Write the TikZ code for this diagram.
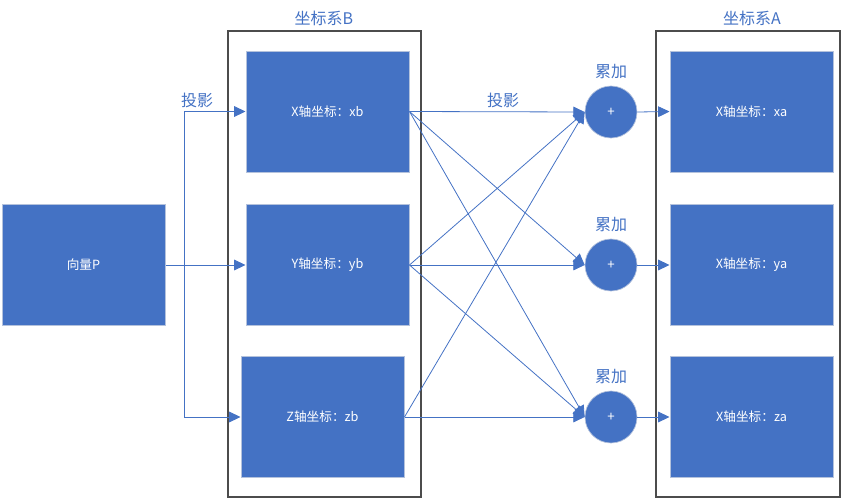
\documentclass[tikz,border=0pt]{standalone}
\usepackage{fontspec}
\setmainfont{Noto Sans CJK SC}
\usetikzlibrary{arrows.meta}
\definecolor{blu}{HTML}{4472C4}
\definecolor{bord}{HTML}{B4C2DC}
\begin{document}
\begin{tikzpicture}[x=0.75pt,y=-0.75pt,
 blk/.style={draw=bord,line width=0.75pt,fill=blu,text=white,minimum width=122.25pt,minimum height=90.75pt,inner sep=0pt,font=\fontsize{9.5}{11}\selectfont},
 frm/.style={draw=black!70,line width=0.9pt,minimum height=349.5pt,inner sep=0pt},
 circ/.style={circle,draw=bord,line width=0.5pt,fill=blu,text=white,minimum size=39pt,inner sep=0pt,font=\fontsize{10}{11}\selectfont},
 ttl/.style={text=blu,font=\fontsize{12}{14}\selectfont,inner sep=0pt},
 con/.style={draw=blu,line width=0.6pt,-{Triangle[length=8.5pt,width=8pt]}},
]
\useasboundingbox (0,0) rectangle (864,501);
% frames
\node[frm,minimum width=144.75pt] (frameB) at (324.5,264) {};
\node[frm,minimum width=138pt] (frameA) at (748,264) {};
\node[ttl] (tB) at (324,18) {坐标系B};
\node[ttl] (tA) at (752,18) {坐标系A};
% boxes
\node[blk] (P) at (83.5,265) {向量P};
\node[blk] (xb) at (327.5,111.5) {X轴坐标：xb};
\node[blk] (yb) at (327.5,265) {Y轴坐标：yb};
\node[blk] (zb) at (322.5,417) {Z轴坐标：zb};
\node[blk] (xa) at (751.5,111.5) {X轴坐标：xa};
\node[blk] (ya) at (751.5,265) {X轴坐标：ya};
\node[blk] (za) at (751.5,417) {X轴坐标：za};
% circles
\node[circ] (c1) at (611,112) {+};
\node[circ] (c2) at (611,265) {+};
\node[circ] (c3) at (611,417) {+};
\node[ttl] (l1) at (611,72) {累加};
\node[ttl] (l2) at (611,225) {累加};
\node[ttl] (l3) at (611,377) {累加};
\node[ttl] (p1) at (197,100) {投影};
\node[ttl] (p2) at (503,100) {投影};
% connectors
\coordinate (fork) at (184,265);
\draw[con] (P.east) -- (yb.west);
\draw[con] (fork) |- (xb.west);
\draw[con] (fork) |- (zb.west);
\draw[con] (xb.east) -- (c1.west);
\draw[con] (xb.east) -- (c2.west);
\draw[con] (xb.east) -- (c3.west);
\draw[con] (yb.east) -- (c1.west);
\draw[con] (yb.east) -- (c2.west);
\draw[con] (yb.east) -- (c3.west);
\draw[con] (zb.east) -- (c1.west);
\draw[con] (zb.east) -- (c3.west);
\draw[con] (c1.east) -- (xa.west);
\draw[con] (c2.east) -- (ya.west);
\draw[con] (c3.east) -- (za.west);
\end{tikzpicture}
\end{document}
